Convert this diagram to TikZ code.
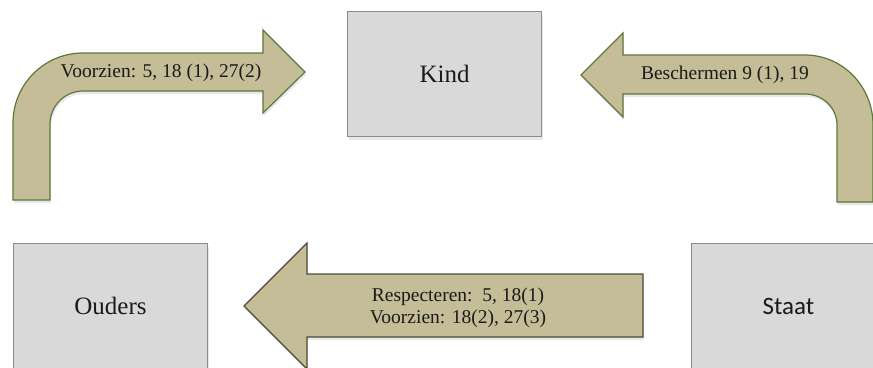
\documentclass[tikz,border=0pt]{standalone}
\usepackage{fontspec}
\setmainfont{Liberation Serif}
\newfontfamily\calfont{Carlito}
\usetikzlibrary{shadows}
\definecolor{tanfill}{HTML}{C4BD97}
\definecolor{olivedge}{HTML}{5E783C}
\definecolor{darkedge}{HTML}{4A4A3C}
\definecolor{boxfill}{HTML}{D9D9D9}
\definecolor{boxedge}{HTML}{8C8C8C}
\definecolor{txt}{HTML}{1A1A1A}
\begin{document}
\begin{tikzpicture}[x=1pt,y=-1pt,
  softshadow/.style={drop shadow={opacity=0.18, shadow xshift=1pt, shadow yshift=-3pt}},
  box/.style={draw=boxedge, fill=boxfill, line width=1pt, minimum width=194pt,
    minimum height=125pt, anchor=north west, inner sep=0pt, text=txt,
    font=\fontsize{25}{30}\selectfont, softshadow},
  bent/.style={draw=olivedge, fill=tanfill, line width=1.2pt, line join=miter, softshadow},
  flat/.style={draw=darkedge, fill=tanfill, line width=1.2pt, line join=miter, softshadow},
  lbl/.style={text=txt, font=\fontsize{19.5}{22}\selectfont, inner sep=0pt, align=center}]
\clip (0,0) rectangle (873,367);
\fill[white] (0,0) rectangle (873,367);

% boxes
\node[box] (kind) at (347,11) {Kind};
\node[box] (ouders) at (13,243) {Ouders};
\node[box, font=\calfont\fontsize{25}{30}\selectfont] (staat) at (691,243) {Staat};

% left bent arrow (Ouders -> Kind)
\draw[bent] (13,200) -- (13,123) .. controls (13,84.3) and (44.3,53) .. (83,53)
  -- (263,53) -- (263,30) -- (305,72) -- (263,113) -- (263,91) -- (83,91)
  .. controls (64.8,91) and (50,105.8) .. (50,124) -- (50,200) -- cycle;

% right bent arrow (Staat -> Kind)
\draw[bent] (873,202) -- (873,125) .. controls (873,86.3) and (842.5,55) .. (805,55)
  -- (623,55) -- (623,33) -- (581,75) -- (623,117) -- (623,94) -- (805,94)
  .. controls (822.7,94) and (837,107.9) .. (837,125) -- (837,202) -- cycle;

% bottom arrow (Staat -> Ouders)
\draw[flat] (643,274) -- (307,274) -- (307,243) -- (244,306) -- (307,369)
  -- (307,337) -- (643,337) -- cycle;

% labels
\node[lbl] (t1) at (161,73) {Voorzien: 5, 18 (1), 27(2)};
\node[lbl] (t2) at (725,75) {Beschermen 9 (1), 19};
\node[lbl] (t3) at (458,308) {Respecteren:\ \ 5, 18(1)\\Voorzien: 18(2), 27(3)};
\end{tikzpicture}
\end{document}
